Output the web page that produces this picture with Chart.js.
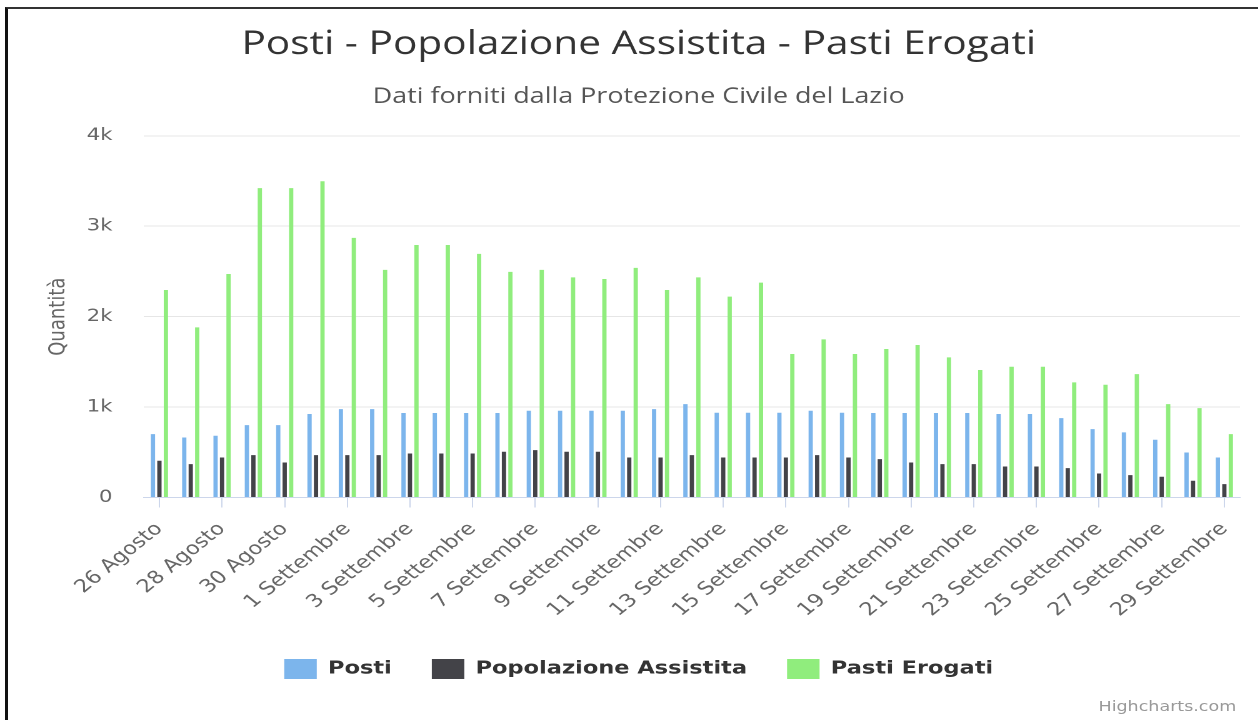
<!DOCTYPE html>
<html>
<head>
<meta charset="utf-8">
<script src="https://cdn.jsdelivr.net/npm/chart.js@4.4.1/dist/chart.umd.min.js"></script>
<style>
  body { margin: 0; background: #fff; overflow: hidden; }
  /* the reference is a screenshot stretched horizontally by about 1.25 */
  #wrap { position: absolute; left: 0; top: 0; width: 1006px; height: 720px;
          transform: scaleX(1.25); transform-origin: 0 0; }
  #frame { position: absolute; left: 5px; top: 7px; width: 1260px; height: 720px;
           border-top: 2px solid #333; border-left: 3px solid #111; pointer-events: none; }
  #credit { position: absolute; right: 17px; top: 698px; font: 14px "DejaVu Sans", sans-serif;
            color: #999; }
</style>
</head>
<body>
<div id="wrap">
  <canvas id="chart" width="1006" height="720"></canvas>
  <div id="credit">Highcharts.com</div>
</div>
<div id="frame"></div>
<script>
// categories (one per day)
const days = [
  "26 Agosto", "27 Agosto", "28 Agosto", "29 Agosto", "30 Agosto", "31 Agosto",
  "1 Settembre", "2 Settembre", "3 Settembre", "4 Settembre", "5 Settembre",
  "6 Settembre", "7 Settembre", "8 Settembre", "9 Settembre", "10 Settembre",
  "11 Settembre", "12 Settembre", "13 Settembre", "14 Settembre", "15 Settembre",
  "16 Settembre", "17 Settembre", "18 Settembre", "19 Settembre", "20 Settembre",
  "21 Settembre", "22 Settembre", "23 Settembre", "24 Settembre", "25 Settembre",
  "26 Settembre", "27 Settembre", "28 Settembre", "29 Settembre"
];

// series values
const posti = [
  701, 664, 683, 801, 801, 923, 978, 978, 934, 934, 934, 934, 959, 959, 959,
  959, 978, 1033, 937, 937, 937, 959, 937, 935, 934, 934, 934, 923, 923, 878,
  756, 720, 638, 498, 443
];
const popolazione = [
  406, 369, 443, 469, 387, 469, 469, 469, 487, 487, 487, 506, 524, 506, 506,
  443, 443, 469, 443, 443, 443, 469, 443, 424, 387, 369, 369, 343, 343, 325,
  266, 247, 229, 185, 148
];
const pasti = [
  2295, 1882, 2472, 3421, 3421, 3498, 2871, 2517, 2793, 2793, 2694, 2495, 2517, 2435, 2417,
  2539, 2295, 2435, 2221, 2376, 1587, 1749, 1587, 1642, 1686, 1550, 1410, 1446, 1446, 1273,
  1247, 1365, 1033, 989, 701
];

// y axis ticks
const yTicks = [0, 1000, 2000, 3000, 4000];
const yTickLabels = ["0", "1k", "2k", "3k", "4k"];

const font = "'DejaVu Sans', sans-serif";

const canvas = document.querySelector('#chart');
const options = {
  type: 'bar',
  data: {
    labels: days,
    datasets: [
      { label: 'Posti', data: posti, backgroundColor: '#7cb5ec' },
      { label: 'Popolazione Assistita', data: popolazione, backgroundColor: '#434348' },
      { label: 'Pasti Erogati', data: pasti, backgroundColor: '#90ed7d' }
    ]
  },
  options: {
    responsive: false,
    animation: false,
    devicePixelRatio: 2,
    datasets: {
      bar: { categoryPercentage: 0.62, barPercentage: 0.66 }
    },
    layout: { padding: { left: 30, right: 14, top: 0, bottom: 31 } },
    scales: {
      x: {
        // the first rotated label may hang out to the left, don't reserve room for it
        afterFit: (scale) => { scale.paddingLeft = 0; scale.height -= 5; },
        grid: {
          offset: false,
          drawOnChartArea: false,
          drawTicks: true,
          tickLength: 10,
          tickColor: (c) => c.index % 2 === 0 ? '#ccd6eb' : 'rgba(0,0,0,0)'
        },
        border: { color: '#ccd6eb' },
        ticks: {
          autoSkip: false,
          maxRotation: 45,
          minRotation: 45,
          color: '#666',
          padding: 11,
          font: { family: font, size: 18 },
          callback: function (v, i) { return i % 2 === 0 ? days[i] : ''; }
        }
      },
      y: {
        min: 0,
        max: 4000,
        afterBuildTicks: (axis) => { axis.ticks = yTicks.map(v => ({ value: v })); },
        afterFit: (scale) => { scale.width = 85; },
        grid: {
          color: (c) => c.tick && c.tick.value === 0 ? '#ccd6eb' : '#e6e6e6',
          drawTicks: false
        },
        border: { display: false },
        ticks: {
          color: '#666',
          padding: 25,
          font: { family: font, size: 17 },
          callback: (v) => yTickLabels[yTicks.indexOf(v)]
        },
        title: {
          display: true,
          text: 'Quantità',
          color: '#666',
          font: { family: font, size: 18 },
          padding: { top: 6, bottom: 11 }
        }
      }
    },
    plugins: {
      title: {
        display: true,
        text: 'Posti - Popolazione Assistita - Pasti Erogati',
        color: '#333',
        font: { family: "'Open Sans', sans-serif", size: 32.5, weight: 'normal' },
        padding: { top: 25, bottom: 20 }
      },
      subtitle: {
        display: true,
        text: 'Dati forniti dalla Protezione Civile del Lazio',
        color: '#555',
        font: { family: "'Open Sans', sans-serif", size: 21.5, weight: 'normal' },
        padding: { top: 0, bottom: 26 }
      },
      legend: {
        position: 'bottom',
        labels: {
          color: '#333',
          boxWidth: 26,
          boxHeight: 20,
          padding: 32,
          font: { family: font, size: 18, weight: 'bold' }
        }
      },
      tooltip: { enabled: false }
    }
  }
};
const chart = new Chart(canvas.getContext('2d'), options);
</script>
</body>
</html>
